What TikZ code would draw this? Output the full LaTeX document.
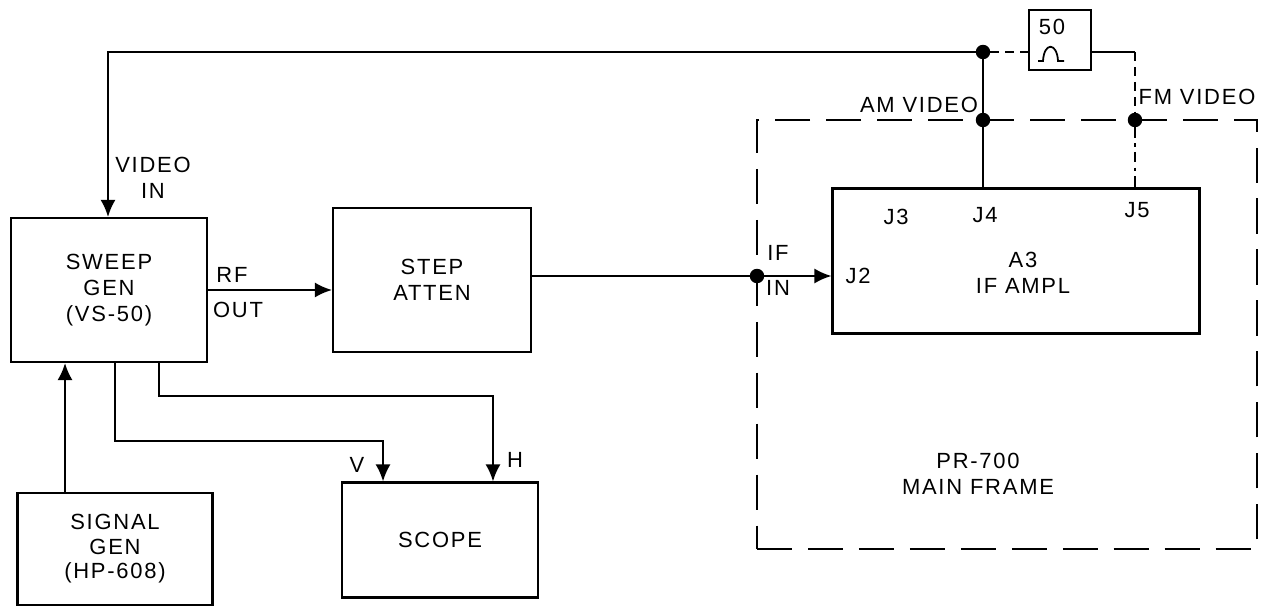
\documentclass[tikz,border=0pt]{standalone}
\usepackage{fontspec}
\setmainfont{Liberation Sans}[LetterSpace=8]
\usetikzlibrary{arrows.meta}
\begin{document}
\begin{tikzpicture}[x=0.02cm,y=-0.02cm,line width=1.2pt,
  font=\fontsize{12.5}{15}\selectfont,
  blk/.style={draw,rectangle,inner sep=0pt,align=center},
  txt/.style={inner sep=0pt,align=center},
  dot/.style={draw,circle,fill,inner sep=0pt,minimum size=7pt},
  arr/.style={-{Latex[length=3.4mm,width=3mm]}},
  mainframe/.style={dash pattern=on 20pt off 9pt},
  shortdash/.style={dash pattern=on 5pt off 3.5pt},
  dashdot/.style={dash pattern=on 6pt off 3pt on 2pt off 3pt}]
\useasboundingbox (0,0) rectangle (1268,607);
\node[blk,minimum width=3.92cm,minimum height=2.88cm] (sweep) at (109,290) {SWEEP\\GEN\\(VS-50)};
\node[blk,minimum width=3.96cm,minimum height=2.88cm] (step) at (432,280) {STEP\\ATTEN};
\node[blk,minimum width=3.92cm,minimum height=2.3cm] (scope) at (440,540) {SCOPE};
\node[blk,minimum width=3.9cm,minimum height=2.24cm,font=\fontsize{12.5}{14}\selectfont] (siggen) at (115,549) {SIGNAL\\GEN\\(HP-608)};
\node[blk,minimum width=7.34cm,minimum height=2.9cm] (ampl) at (1016,261) {};
\node[blk,minimum width=1.24cm,minimum height=1.2cm] (pulse) at (1060,40) {};
\node[draw,mainframe,inner sep=0pt,minimum width=10cm,minimum height=8.58cm] (frame) at (1007,334.5) {};

\node[dot] (top) at (983,52) {};
\node[dot] (am) at (983,120) {};
\node[dot] (fm) at (1135,120) {};
\node[dot] (ifin) at (757,276) {};
\coordinate (vin) at (108,52);
\coordinate (fmc) at (1135,52);

\path[draw,arr] (top) -- (vin) -- (vin |- sweep.north);
\path[draw,shortdash] (top) -- (pulse.west |- top);
\path[draw] (pulse.east |- fmc) -- (fmc);
\path[draw,shortdash] (fmc) -- (fm);
\path[draw,dashdot] (fm) -- (fm |- ampl.north);
\path[draw] (top) -- (am) -- (am |- ampl.north);
\path[draw,arr] (sweep.east) -- (sweep.east -| step.west);
\path[draw] (step.east |- ifin) -- (ifin);
\path[draw,arr] (ifin) -- (ifin -| ampl.west);
\path[draw,arr] ([xshift=-1cm]siggen.north) -- ([xshift=-1cm]siggen.north |- sweep.south);
\path[draw,arr] ([xshift=0.12cm]sweep.south) -- ++(0,78) -| ([xshift=-1.14cm]scope.north);
\path[draw,arr] ([xshift=1cm]sweep.south) -- ++(0,33) -| ([xshift=1.06cm]scope.north);

\draw[line width=1pt] (1038,61) -- (1043,61) .. controls (1044,42) and (1057,42) .. (1058,61) -- (1064,61);
\node[txt] (fifty) at (1052,27) {50};

\node[txt] (videoin) at (153,178) {VIDEO\\IN};
\node[txt] (rf) at (232,275) {RF};
\node[txt] (out) at (238,310) {OUT};
\node[txt] (vlbl) at (357,465) {V};
\node[txt] (hlbl) at (515,460) {H};
\node[txt] (amvideo) at (919,105) {AM VIDEO};
\node[txt] (fmvideo) at (1197,97) {FM VIDEO};
\node[txt] (iflbl) at (778,253) {IF};
\node[txt] (inlbl) at (778,288) {IN};
\node[txt] (jtwo) at (858,276) {J2};
\node[txt] (jthree) at (896,217) {J3};
\node[txt] (jfour) at (985,215) {J4};
\node[txt] (jfive) at (1137,210) {J5};
\node[txt] (amplname) at (1023,273) {A3\\IF AMPL};
\node[txt] (prname) at (978,474) {PR-700\\MAIN FRAME};
\end{tikzpicture}
\end{document}
